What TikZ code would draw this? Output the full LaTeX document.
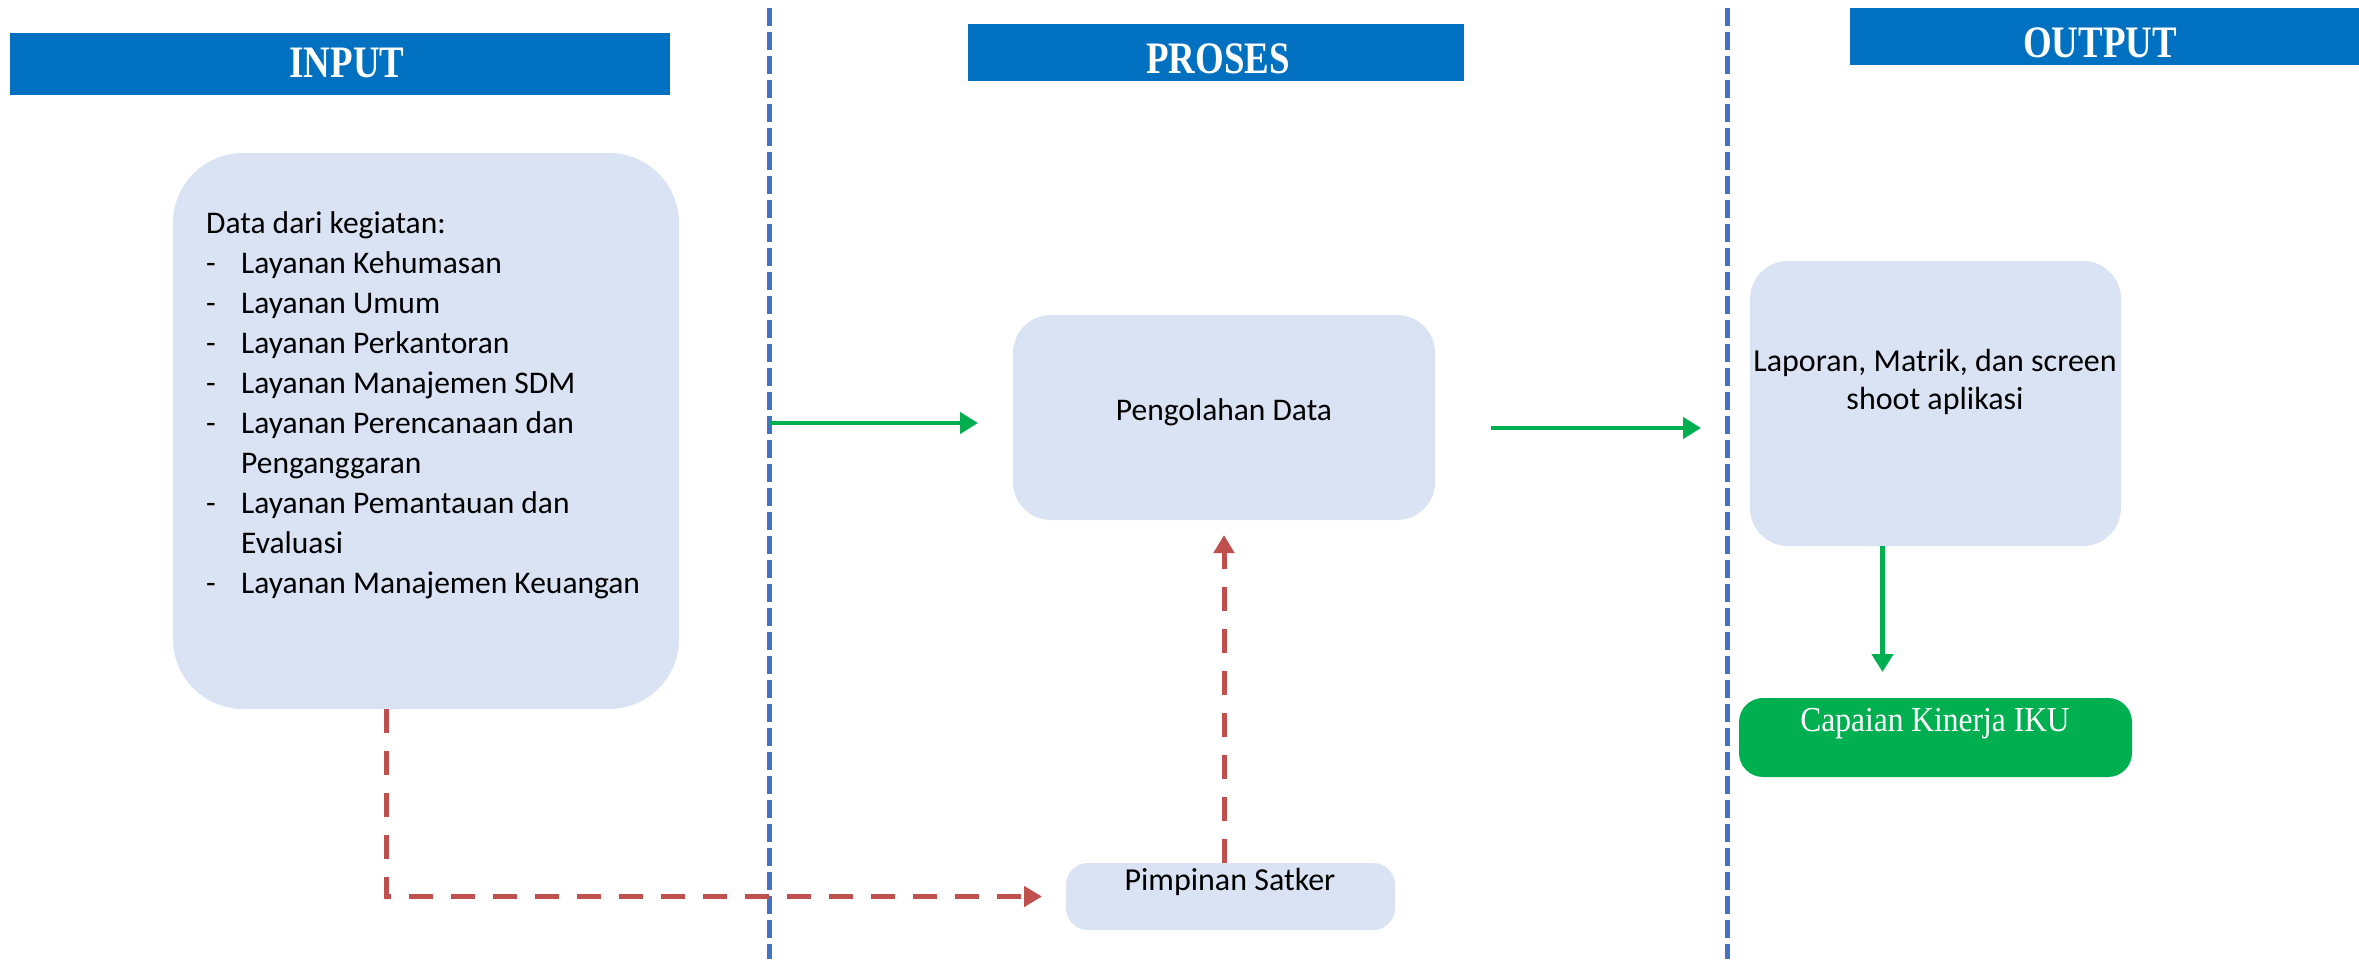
\documentclass[tikz,border=0pt]{standalone}
\usepackage{fontspec}
\setmainfont{Carlito}
\newfontfamily\titlefont[FakeStretch=0.82]{Liberation Serif}
\newfontfamily\capfont[FakeStretch=0.9]{Liberation Serif}
\usetikzlibrary{arrows.meta}
\definecolor{bannerblue}{RGB}{0,112,192}
\definecolor{boxfill}{RGB}{218,227,243}
\definecolor{okgreen}{RGB}{0,176,80}
\definecolor{flowred}{RGB}{192,80,77}
\definecolor{laneblue}{RGB}{68,114,196}

\begin{document}
\begin{tikzpicture}[x=1pt,y=-1pt,
  banner/.style={fill=bannerblue, draw=none, inner sep=0, outer sep=0, anchor=north west},
  card/.style={fill=boxfill, draw=none, inner sep=0, outer sep=0, anchor=north west},
  lane/.style={draw=laneblue, line width=5pt, dash pattern=on 18pt off 6pt},
  garrow/.style={draw=okgreen, line width=4.5pt, -{Triangle[length=18pt,width=21pt]}},
  rarrow/.style={draw=flowred, line width=5pt, dash pattern=on 24pt off 18pt, -{Triangle[length=18pt,width=20pt]}},
  titletext/.style={text=white, font=\titlefont\bfseries\fontsize{45}{45}\selectfont, inner sep=0, anchor=base},
  bodytext/.style={text=black, font=\fontsize{32}{37}\selectfont, inner sep=0, anchor=base},
]
\useasboundingbox (0,0) rectangle (2359,959);

% column dividers
\draw[lane] (769,8) -- (769,959);
\draw[lane] (1727,8) -- (1727,959);

% column banners
\node[banner, minimum width=660pt, minimum height=62pt] (inbanner) at (10,33) {};
\node[banner, minimum width=496pt, minimum height=57pt] (probanner) at (968,24) {};
\node[banner, minimum width=509pt, minimum height=57pt] (outbanner) at (1850,8) {};
\node[titletext] (intitle) at (347,77) {INPUT};
\node[titletext] (protitle) at (1218,73) {PROSES};
\node[titletext] (outtitle) at (2100,57) {OUTPUT};

% input
\node[card, rounded corners=70pt, minimum width=506pt, minimum height=556pt] (inbox) at (173,153) {};
\node[anchor=base west, inner sep=0, font=\fontsize{31.5}{40.1}\selectfont] (inlist) at (206,233) {%
  \begin{tabular}[t]{@{}p{35pt}@{}l@{}}
  \multicolumn{2}{@{}l@{}}{Data dari kegiatan:}\\
  - & Layanan Kehumasan\\
  - & Layanan Umum\\
  - & Layanan Perkantoran\\
  - & Layanan Manajemen SDM\\
  - & Layanan Perencanaan dan\\
    & Penganggaran\\
  - & Layanan Pemantauan dan\\
    & Evaluasi\\
  - & Layanan Manajemen Keuangan
  \end{tabular}};

% process
\node[card, rounded corners=38pt, minimum width=422pt, minimum height=205pt] (proc) at (1013,315) {};
\node[bodytext, font=\fontsize{31.5}{37}\selectfont] (proctext) at (1224,420) {Pengolahan Data};
\node[card, rounded corners=22pt, minimum width=329pt, minimum height=67pt] (pimp) at (1066,863) {};
\node[bodytext] (pimptext) at (1230,890) {Pimpinan Satker};

% output
\node[card, rounded corners=38pt, minimum width=371pt, minimum height=285pt] (lap) at (1750,261) {};
\node[bodytext] (laptext) at (1935,371) {%
  \begin{tabular}[t]{@{}c@{}}Laporan, Matrik, dan screen\\[1pt]shoot aplikasi\end{tabular}};
\node[fill=okgreen, draw=none, inner sep=0, outer sep=0, anchor=north west, rounded corners=24pt,
      minimum width=393pt, minimum height=79pt] (cap) at (1739,698) {};
\node[inner sep=0, anchor=base, text=white, font=\capfont\fontsize{35}{35}\selectfont] (captext) at (1935,731) {Capaian Kinerja IKU};

% connectors
\draw[rarrow] ([xshift=-40pt]inbox.south) |- ([xshift=-24pt]pimp.west);
\draw[rarrow] (pimp.north -| proc.south) -- ([yshift=-15pt]proc.south);

\coordinate (g1) at (769,423);
\draw[garrow, shorten >=35pt] (g1) -- (g1 -| proc.west);
\coordinate (g2) at (1491,428);
\draw[garrow, shorten >=49pt] (g2) -- (g2 -| lap.west);
\coordinate (g3) at ([xshift=-53pt]lap.south);
\draw[garrow, shorten >=26pt] (g3) -- (g3 |- cap.north);
\end{tikzpicture}
\end{document}
